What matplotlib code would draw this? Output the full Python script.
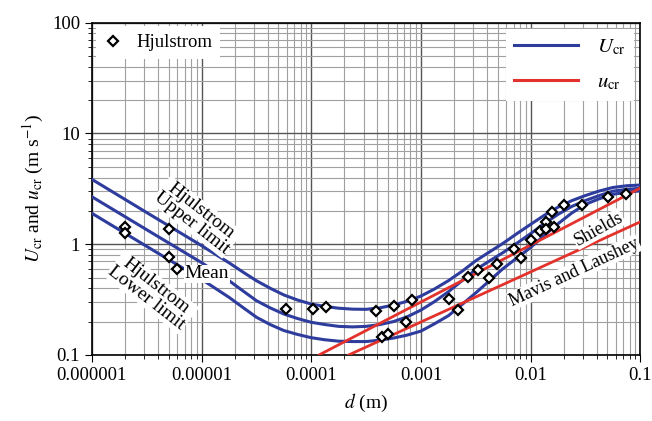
import numpy as np
import matplotlib
matplotlib.use("Agg")
import matplotlib.pyplot as plt
from matplotlib.lines import Line2D

plt.rcParams["font.family"] = "Liberation Serif"
plt.rcParams["mathtext.fontset"] = "stix"

d_curve = [1e-6, 3.16e-6, 1e-5, 1.33e-5, 1.78e-5, 2.37e-5, 3.16e-5, 4.22e-5,
           5.62e-5, 7.5e-5, 1e-4, 1.33e-4, 1.78e-4, 2.37e-4, 3.16e-4, 4.22e-4,
           5.62e-4, 7.5e-4, 1e-3, 1.33e-3, 1.78e-3, 2.37e-3, 3.16e-3, 4.22e-3,
           5.62e-3, 7.5e-3, 1e-2, 1.33e-2, 1.78e-2, 2.37e-2, 3.16e-2, 4.22e-2,
           5.62e-2, 7.5e-2, 0.1]
u_upper = [3.85, 1.93, 0.97, 0.813, 0.679, 0.562, 0.468, 0.400, 0.348, 0.313,
           0.288, 0.274, 0.264, 0.259, 0.258, 0.266, 0.282, 0.305, 0.340, 0.394,
           0.468, 0.569, 0.708, 0.851, 1.02, 1.245, 1.51, 1.82, 2.16, 2.47,
           2.75, 3.02, 3.25, 3.37, 3.42]
u_mean = [2.68, 1.35, 0.681, 0.565, 0.468, 0.380, 0.309, 0.266, 0.234, 0.213,
          0.197, 0.188, 0.181, 0.179, 0.181, 0.188, 0.200, 0.221, 0.254, 0.303,
          0.372, 0.468, 0.589, 0.705, 0.841, 1.02, 1.245, 1.53, 1.86, 2.19,
          2.48, 2.75, 3.01, 3.13, 3.19]
u_lower = [1.90, 0.955, 0.481, 0.400, 0.331, 0.269, 0.219, 0.188, 0.166, 0.153,
           0.143, 0.137, 0.133, 0.132, 0.132, 0.136, 0.142, 0.151, 0.164, 0.191,
           0.226, 0.285, 0.363, 0.468, 0.603, 0.750, 0.933, 1.20, 1.53, 1.91,
           2.29, 2.57, 2.82, 2.95, 3.03]

# straight lines (log-log): Shields and Mavis & Laushey
d_shields = [1.18e-4, 0.1]
u_shields = [0.1, 3.21]
d_mavis = [2.2e-4, 0.1]
u_mavis = [0.1, 1.59]

# Hjulstrom data points
d_hj = [2e-6, 2e-6, 5e-6, 5e-6, 6e-6, 5.9e-5, 1.03e-4, 1.36e-4, 3.93e-4, 5.72e-4,
        8.34e-4, 4.4e-4, 4.98e-4, 7.26e-4, 1.82e-3, 2.17e-3, 2.67e-3, 3.3e-3,
        4.15e-3, 4.94e-3, 7.1e-3, 8.23e-3, 0.0101, 0.0123, 0.0138, 0.0138,
        0.0162, 0.0156, 0.02, 0.0297, 0.0512, 0.0735]
u_hj = [1.44, 1.25, 1.38, 0.77, 0.60, 0.258, 0.258, 0.272, 0.249, 0.276,
        0.313, 0.144, 0.156, 0.198, 0.317, 0.254, 0.507, 0.583,
        0.50, 0.66, 0.90, 0.745, 1.09, 1.32, 1.59, 1.36,
        1.42, 1.94, 2.25, 2.25, 2.68, 2.84]

x_ticks = [1e-6, 1e-5, 1e-4, 1e-3, 1e-2, 1e-1]
x_ticklabels = ["0.000001", "0.00001", "0.0001", "0.001", "0.01", "0.1"]
y_ticks = [0.1, 1, 10, 100]
y_ticklabels = ["0.1", "1", "10", "100"]

blue = "#2e3c9e"
red = "#e2322b"

fig = plt.figure(figsize=(6.52, 4.21), dpi=100)
ax = fig.add_axes([0.141, 0.157, 0.841, 0.789])
ax.set_xscale("log")
ax.set_yscale("log")
ax.set_xlim(1e-6, 0.1)
ax.set_ylim(0.1, 100)

ax.grid(True, which="major", color="#555555", lw=1.0, zorder=0)
ax.grid(True, which="minor", color="#a0a0a0", lw=0.8, zorder=0)

for u in (u_upper, u_mean, u_lower):
    ax.plot(d_curve, u, color=blue, lw=2.2, zorder=3)
ax.plot(d_shields, u_shields, color=red, lw=2.0, zorder=3)
ax.plot(d_mavis, u_mavis, color=red, lw=2.0, zorder=3)
ax.plot(d_hj, u_hj, ls="none", marker="D", ms=5, mfc="white", mec="black",
        mew=1.6, zorder=5)

box = dict(facecolor="white", edgecolor="none", pad=0.5)
ax.text(9e-6, 1.76, "Hjulstrom\nUpper limit", rotation=-38, ha="center",
        va="center", fontsize=14, linespacing=0.9, bbox=box, zorder=4)
ax.text(3.5e-6, 0.37, "Hjulstrom\nLower limit", rotation=-38, ha="center",
        va="center", fontsize=14, linespacing=0.9, bbox=box, zorder=4)
ax.text(1.11e-5, 0.54, "Mean", ha="center", va="center", fontsize=14,
        bbox=box, zorder=4)
ax.text(0.0415, 1.37, "Shields", rotation=29, ha="center", va="center",
        fontsize=13, bbox=box, zorder=4)
ax.text(0.025, 0.56, "Mavis and Laushey", rotation=25, ha="center",
        va="center", fontsize=13, bbox=box, zorder=4)

ax.set_xticks(x_ticks)
ax.set_xticklabels(x_ticklabels)
ax.set_yticks(y_ticks)
ax.set_yticklabels(y_ticklabels)
ax.tick_params(which="major", direction="out", length=5, labelsize=13.5)
ax.tick_params(which="minor", direction="out", length=3, labelleft=False,
               labelbottom=False)
for s in ax.spines.values():
    s.set_linewidth(1.2)

ax.set_xlabel(r"$d$ (m)", fontsize=14, labelpad=6)
ax.set_ylabel(r"$U_{\rm cr}$ and $u_{\rm cr}$ (m s$^{-1}$)", fontsize=14,
              labelpad=4)

h1 = [Line2D([], [], ls="none", marker="D", ms=5, mfc="white", mec="black",
             mew=1.6)]
leg1 = ax.legend(h1, ["Hjulstrom"], loc="upper left", fontsize=13.5,
                 frameon=True, fancybox=False, edgecolor="none",
                 framealpha=1, handlelength=1.0, handletextpad=0.8,
                 borderaxespad=0.2)
ax.add_artist(leg1)
h2 = [Line2D([], [], color=blue, lw=2.2), Line2D([], [], color=red, lw=2.2)]
ax.legend(h2, [r"$U_{\rm cr}$", r"$u_{\rm cr}$"], loc="upper right",
          fontsize=15, frameon=True, fancybox=False, edgecolor="none",
          framealpha=1, handlelength=3.1, handletextpad=0.9, labelspacing=0.75,
          borderaxespad=0.3)

fig.savefig("out.png", dpi=100)
